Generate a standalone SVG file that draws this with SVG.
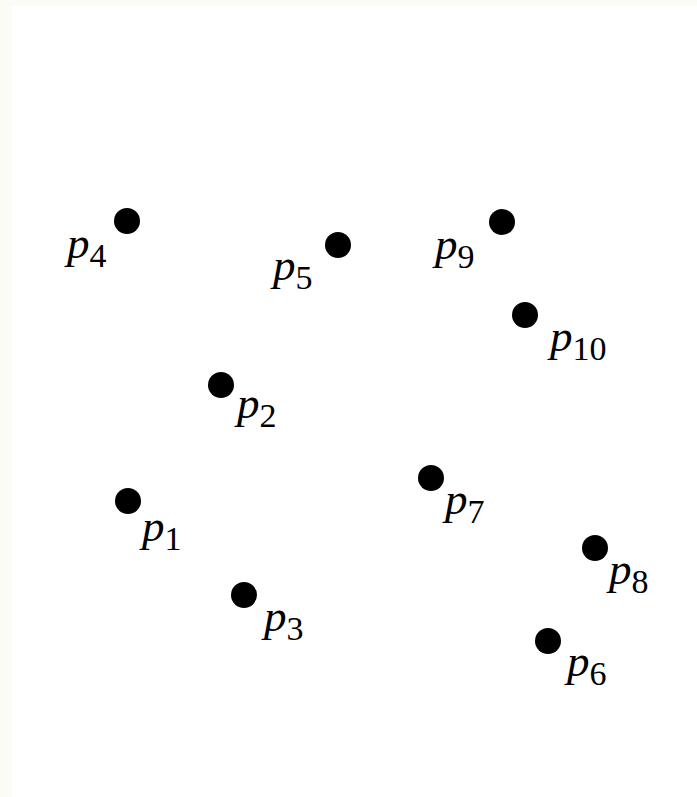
<svg xmlns="http://www.w3.org/2000/svg" width="697" height="797" viewBox="0 0 697 797">
<style>
.pt{fill:#000}
.lbl{font-family:"Liberation Serif","Times New Roman",serif;fill:#000}
.v{font-style:italic;font-size:45px}
.s{font-style:normal;font-size:34px}
</style>
<rect x="0" y="0" width="697" height="797" fill="#fcfcf6"/>
<rect x="12" y="6" width="685" height="791" fill="#ffffff"/>
<g id="connectors"></g>
<g id="p1"><circle class="pt" cx="128" cy="501" r="13"/><text class="lbl" x="142" y="541"><tspan class="v">p</tspan><tspan class="s" dy="9">1</tspan></text></g>
<g id="p2"><circle class="pt" cx="221" cy="385" r="13"/><text class="lbl" x="237" y="418"><tspan class="v">p</tspan><tspan class="s" dy="9">2</tspan></text></g>
<g id="p3"><circle class="pt" cx="244" cy="595" r="13"/><text class="lbl" x="264" y="631"><tspan class="v">p</tspan><tspan class="s" dy="9">3</tspan></text></g>
<g id="p4"><circle class="pt" cx="127" cy="221" r="13"/><text class="lbl" x="67" y="258"><tspan class="v">p</tspan><tspan class="s" dy="9">4</tspan></text></g>
<g id="p5"><circle class="pt" cx="338" cy="245" r="13"/><text class="lbl" x="273" y="280"><tspan class="v">p</tspan><tspan class="s" dy="9">5</tspan></text></g>
<g id="p6"><circle class="pt" cx="548" cy="641" r="13"/><text class="lbl" x="567" y="676"><tspan class="v">p</tspan><tspan class="s" dy="9">6</tspan></text></g>
<g id="p7"><circle class="pt" cx="431" cy="478" r="13"/><text class="lbl" x="445" y="514"><tspan class="v">p</tspan><tspan class="s" dy="9">7</tspan></text></g>
<g id="p8"><circle class="pt" cx="595" cy="548" r="13"/><text class="lbl" x="609" y="584"><tspan class="v">p</tspan><tspan class="s" dy="9">8</tspan></text></g>
<g id="p9"><circle class="pt" cx="502" cy="222" r="13"/><text class="lbl" x="435" y="259"><tspan class="v">p</tspan><tspan class="s" dy="9">9</tspan></text></g>
<g id="p10"><circle class="pt" cx="525" cy="315" r="13"/><text class="lbl" x="550" y="351"><tspan class="v">p</tspan><tspan class="s" dy="9">10</tspan></text></g>
</svg>
